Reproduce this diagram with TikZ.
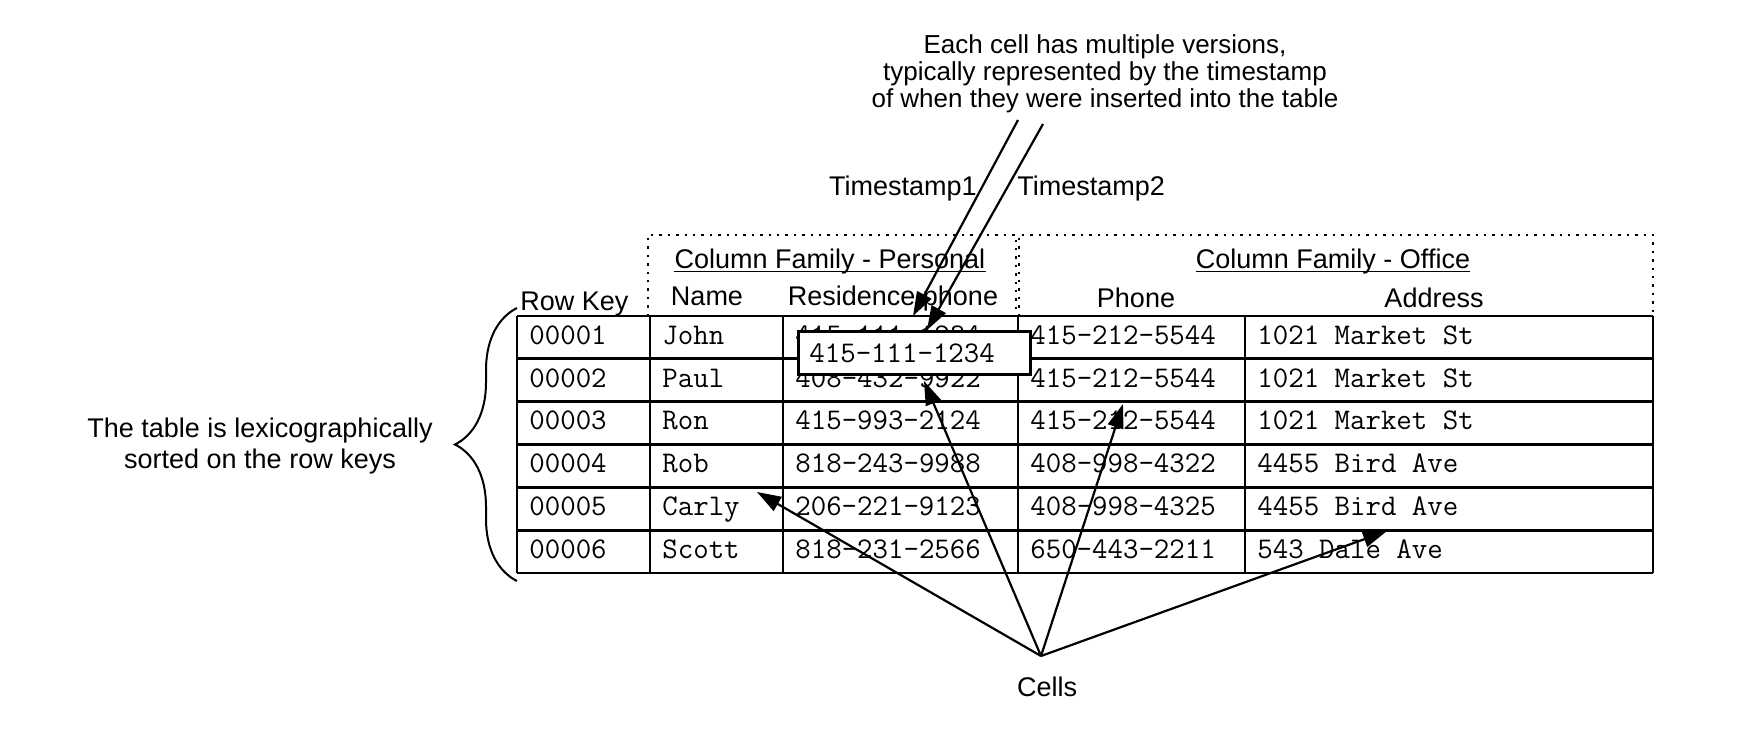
\documentclass[tikz,border=0pt]{standalone}
\usepackage{fontspec}
\setmainfont{Liberation Sans}
\usetikzlibrary{arrows.meta,positioning,decorations.pathreplacing}

\begin{document}
\begin{tikzpicture}[
    x=0.5pt, y=-0.5pt,
    lbl/.style={font=\fontsize{13.5}{15.5}\selectfont, inner sep=0pt},
    note/.style={font=\fontsize{13}{13.5}\selectfont, inner sep=0pt, align=center},
    cell/.style={font=\ttfamily\fontsize{15}{17}\selectfont, anchor=base west, inner sep=0pt},
    rule/.style={line width=1.4pt},
    family/.style={line width=1.1pt, dash pattern=on 1.2pt off 3pt},
    arr/.style={-{Triangle[length=12pt,width=8pt]}, line width=1.1pt},
]
    \useasboundingbox (0,0) rectangle (1740,732);

    % column families
    \draw[family] (648,316) rectangle (1016,235);
    \draw[family] (1019,316) rectangle (1653,235);
    \node[lbl, anchor=base] (perfam) at (830,269) {Column Family - Personal};
    \node[lbl, anchor=base] (offfam) at (1333,269) {Column Family - Office};
    \draw[line width=0.8pt] ([yshift=-1.2pt]perfam.base west) -- ([yshift=-1.2pt]perfam.base east);
    \draw[line width=0.8pt] ([yshift=-1.2pt]offfam.base west) -- ([yshift=-1.2pt]offfam.base east);

    % headers
    \node[lbl, anchor=base west] (rowkey) at (520,311) {Row Key};
    \node[lbl, anchor=base] (hname)  at (707,306) {Name};
    \node[lbl, anchor=base] (hres)   at (893,306) {Residence phone};
    \node[lbl, anchor=base] (hphone) at (1136,308) {Phone};
    \node[lbl, anchor=base] (haddr)  at (1434,308) {Address};

    % grid
    \foreach \i in {0,...,6}
        \draw[rule] (517,{316+42.83*\i}) -- (1653,{316+42.83*\i});
    \foreach \x in {517,650,783,1018,1245,1653}
        \draw[rule] (\x,316) -- (\x,573);

    % rows
    \foreach \key/\name/\res/\ph/\addr [count=\i] in {
        00001/John/415-111-1234/415-212-5544/1021 Market St,
        00002/Paul/408-432-9922/415-212-5544/1021 Market St,
        00003/Ron/415-993-2124/415-212-5544/1021 Market St,
        00004/Rob/818-243-9988/408-998-4322/4455 Bird Ave,
        00005/Carly/206-221-9123/408-998-4325/4455 Bird Ave,
        00006/Scott/818-231-2566/650-443-2211/543 Dale Ave}{
        \pgfmathsetmacro\yb{316+42.83*(\i-1)+28.3}
        \node[cell] (key\i)  at (529,\yb)  {\key};
        \node[cell] (name\i) at (662,\yb)  {\name};
        \node[cell] (res\i)  at (795,\yb)  {\res};
        \node[cell] (ph\i)   at (1030,\yb) {\ph};
        \node[cell] (addr\i) at (1257,\yb) {\addr};
    }

    % older version of the cell
    \node[draw, fill=white, rule, anchor=north west, minimum width=116pt,
          minimum height=21.5pt, inner xsep=5.5pt, inner ysep=0pt,
          text width=105pt, align=left,
          font=\ttfamily\fontsize{15}{17}\selectfont] (older) at (797,330) {415-111-1234};

    % sorted rows
    \draw[line width=1pt, decorate, decoration={brace, amplitude=31pt}] (517,581) -- (517,308);
    \node[lbl, align=center] (sorted) at (260,446) {The table is lexicographically\\sorted on the row keys};

    % versions
    \node[note] (versions) at (1105,74) {Each cell has multiple versions,\\typically represented by the timestamp\\of when they were inserted into the table};
    \node[lbl, anchor=base east] (ts1) at (977,196) {Timestamp1};
    \node[lbl, anchor=base west] (ts2) at (1017,196) {Timestamp2};
    \coordinate (ts1from) at (1018,120);
    \coordinate (ts1to)   at (913,316);
    \coordinate (ts2from) at (1043,124);
    \coordinate (ts2to)   at (927,330);
    \draw[arr] (ts1from) -- (ts1to);
    \draw[arr] (ts2from) -- (ts2to);

    % cells
    \node[lbl] (cells) at (1047,687) {Cells};
    \coordinate (hub)     at (1041,656);
    \coordinate (inname)  at (757,492);
    \coordinate (inres)   at (924,381);
    \coordinate (inphone) at (1123,404);
    \coordinate (inaddr)  at (1387,531);
    \foreach \t in {inname,inres,inphone,inaddr}
        \draw[arr] (hub) -- (\t);
\end{tikzpicture}
\end{document}
